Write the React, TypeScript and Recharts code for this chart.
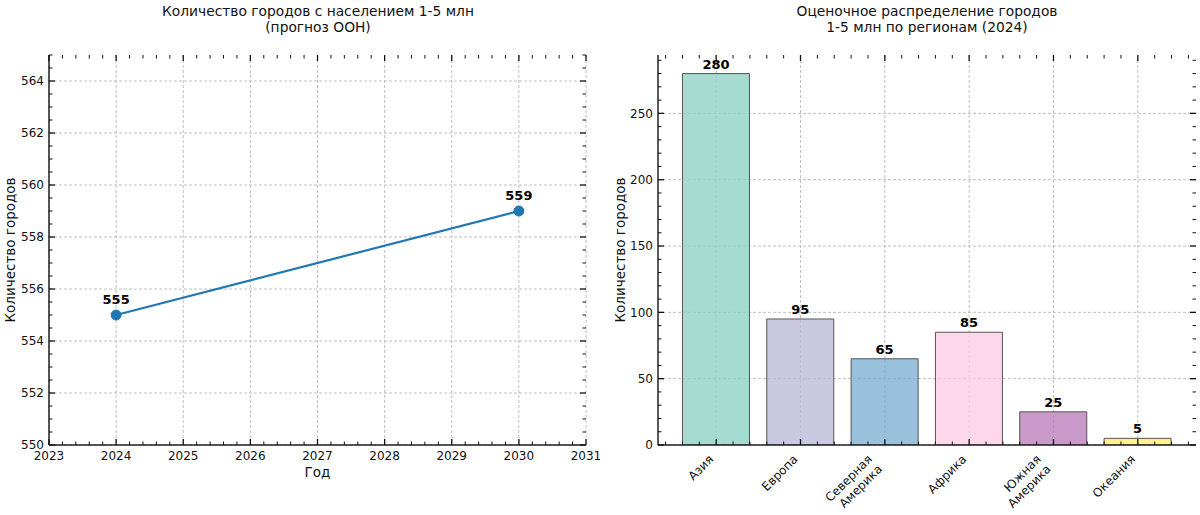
import React from "react";
import {
  Bar,
  BarChart,
  CartesianGrid,
  Cell,
  Label,
  LabelList,
  Line,
  LineChart,
  XAxis,
  YAxis,
} from "recharts";

// left panel: UN forecast
const years = [2024, 2030];
const cityCounts = [555, 559];
const yearTicks = [2023, 2024, 2025, 2026, 2027, 2028, 2029, 2030, 2031];
const countTicks = [550, 552, 554, 556, 558, 560, 562, 564];

// right panel: by region, 2024
const regions = ["Азия", "Европа", "Северная\nАмерика", "Африка", "Южная\nАмерика", "Океания"];
const regionCounts = [280, 95, 65, 85, 25, 5];
const regionColors = ["#8dd3c7", "#bebada", "#80b1d3", "#fccde5", "#bc80bd", "#ffed6f"];
const regionTicks = [0, 1, 2, 3, 4, 5];
const barTicks = [0, 50, 100, 150, 200, 250];

const steps = (a: number, b: number, s: number) => {
  const out: number[] = [];
  for (let k = 0; a + k * s <= b + 1e-9; k++) out.push(Math.round((a + k * s) * 1000) / 1000);
  return out;
};

const lineRows = years.map((year, i) => ({ year, n: cityCounts[i] }));
const barRows = regions.map((region, i) => ({ i, region, value: regionCounts[i] }));

const INK = "#111";
const SPINE = { stroke: "#222", strokeWidth: 1.5 };
const TICK_FONT = 12;

type Side = "bottom" | "top" | "left" | "right";

function makeTick(side: Side, majors: number[], fmt?: (v: number) => string) {
  return (props: any) => {
    const { x, y, payload } = props;
    const v = payload.value as number;
    const major = majors.some((m) => Math.abs(m - v) < 1e-6);
    const len = major ? 6 : 3.5;
    const w = major ? 1.3 : 1;
    let line;
    if (side === "bottom") line = <line x1={x} x2={x} y1={y} y2={y - len} stroke={INK} strokeWidth={w} />;
    else if (side === "top") line = <line x1={x} x2={x} y1={y} y2={y + len} stroke={INK} strokeWidth={w} />;
    else if (side === "left") line = <line x1={x} x2={x + len} y1={y} y2={y} stroke={INK} strokeWidth={w} />;
    else line = <line x1={x} x2={x - len} y1={y} y2={y} stroke={INK} strokeWidth={w} />;
    let text = null;
    if (major && fmt) {
      if (side === "bottom")
        text = (
          <text x={x} y={y + 15} textAnchor="middle" fontSize={TICK_FONT} fill={INK}>
            {fmt(v)}
          </text>
        );
      else if (side === "left")
        text = (
          <text x={x - 5} y={y} dy="0.35em" textAnchor="end" fontSize={TICK_FONT} fill={INK}>
            {fmt(v)}
          </text>
        );
    }
    return (
      <g>
        {line}
        {text}
      </g>
    );
  };
}

function regionTick(props: any) {
  const { x, y, payload } = props;
  const v = payload.value as number;
  const major = regionTicks.includes(v);
  const len = major ? 6 : 3.5;
  const tick = <line x1={x} x2={x} y1={y} y2={y - len} stroke={INK} strokeWidth={major ? 1.3 : 1} />;
  if (!major) return <g>{tick}</g>;
  const lines = regions[v].split("\n");
  const lh = 14;
  const ax = x - 2 - (lines.length - 1) * lh * 0.707;
  const ay = y + 15;
  return (
    <g>
      {tick}
      <text x={ax} y={ay} transform={`rotate(-45, ${ax}, ${ay})`} textAnchor="end" fontSize={TICK_FONT} fill={INK}>
        {lines.map((t, k) => (
          <tspan key={k} x={ax} dy={k === 0 ? 0 : lh}>
            {t}
          </tspan>
        ))}
      </text>
    </g>
  );
}

const yTitle = (text: string, dx: number) => (props: any) => {
  const { x, y, width, height } = props.viewBox;
  const cx = x + width - dx;
  const cy = y + height / 2;
  return (
    <text x={cx} y={cy} transform={`rotate(-90, ${cx}, ${cy})`} textAnchor="middle" dominantBaseline="central" fontSize={13.5} fill={INK}>
      {text}
    </text>
  );
};

const xTitle = (text: string) => (props: any) => {
  const { x, y, width } = props.viewBox;
  return (
    <text x={x + width / 2} y={y + 27} textAnchor="middle" dominantBaseline="central" fontSize={13.5} fill={INK}>
      {text}
    </text>
  );
};

const titleStyle: React.CSSProperties = {
  position: "absolute",
  top: 4,
  textAlign: "center",
  fontSize: 13.8,
  lineHeight: "15.5px",
  color: INK,
  whiteSpace: "pre",
};

const valueLabel = { fontSize: 13, fontWeight: 700, fill: "#000" };

const axisBase = {
  type: "number" as const,
  allowDataOverflow: true,
  interval: 0 as const,
  tickSize: 0,
  tickMargin: 0,
  tickLine: false,
};

export default function App() {
  const xMinor = steps(2023, 2031, 0.2);
  const yMinor = steps(550, 565, 0.5);
  const bxMinor = steps(-0.6, 5.6, 0.2);
  const byMinor = steps(0, 290, 10);

  return (
    <div
      style={{
        position: "absolute",
        left: 0,
        top: 0,
        width: 1200,
        height: 515,
        background: "#fff",
        fontFamily: "'DejaVu Sans', sans-serif",
      }}
    >
      <div style={{ ...titleStyle, left: 118, width: 400 }}>
        {"Количество городов с населением 1-5 млн\n(прогноз ООН)"}
      </div>
      <div style={{ ...titleStyle, left: 727, width: 400 }}>
        {"Оценочное распределение городов\n1-5 млн по регионам (2024)"}
      </div>

      <div style={{ position: "absolute", left: 0, top: 0 }}>
        <LineChart width={600} height={515} data={lineRows} margin={{ top: 54, right: 13, bottom: 69, left: 48 }}>
          <CartesianGrid
            xAxisId="b"
            yAxisId="l"
            stroke="#c0c0c0"
            strokeDasharray="3 2"
            verticalValues={yearTicks}
            horizontalValues={countTicks}
          />
          <XAxis
            {...axisBase}
            xAxisId="b"
            dataKey="year"
            domain={[2023, 2031]}
            ticks={xMinor}
            height={1}
            axisLine={SPINE}
            tick={makeTick("bottom", yearTicks, (v) => String(v))}
          >
            <Label content={xTitle("Год")} />
          </XAxis>
          <XAxis
            {...axisBase}
            xAxisId="t"
            orientation="top"
            dataKey="year"
            domain={[2023, 2031]}
            ticks={xMinor}
            height={1}
            axisLine={false}
            tick={makeTick("top", yearTicks)}
          />
          <YAxis
            {...axisBase}
            yAxisId="l"
            dataKey="n"
            domain={[550, 565]}
            ticks={yMinor}
            width={1}
            axisLine={SPINE}
            tick={makeTick("left", countTicks, (v) => String(v))}
          >
            <Label content={yTitle("Количество городов", 39)} />
          </YAxis>
          <YAxis
            {...axisBase}
            yAxisId="r"
            orientation="right"
            dataKey="n"
            domain={[550, 565]}
            ticks={yMinor}
            width={1}
            axisLine={false}
            tick={makeTick("right", countTicks)}
          />
          <Line
            xAxisId="b"
            yAxisId="l"
            dataKey="n"
            stroke="#1f77b4"
            strokeWidth={2.2}
            dot={{ r: 5, fill: "#1f77b4", stroke: "#1f77b4", strokeWidth: 1 }}
            isAnimationActive={false}
          >
            <LabelList dataKey="n" position="top" offset={11} style={valueLabel} />
          </Line>
        </LineChart>
      </div>

      <div style={{ position: "absolute", left: 600, top: 0 }}>
        <BarChart width={600} height={515} data={barRows} margin={{ top: 54, right: 3, bottom: 69, left: 57 }}>
          <CartesianGrid
            xAxisId="b"
            yAxisId="l"
            stroke="#c0c0c0"
            strokeDasharray="3 2"
            verticalValues={regionTicks}
            horizontalValues={barTicks}
          />
          <XAxis
            {...axisBase}
            xAxisId="b"
            dataKey="i"
            domain={[-0.69, 5.69]}
            ticks={bxMinor}
            height={1}
            axisLine={SPINE}
            tick={regionTick}
          />
          <XAxis
            {...axisBase}
            xAxisId="t"
            orientation="top"
            dataKey="i"
            domain={[-0.69, 5.69]}
            ticks={bxMinor}
            height={1}
            axisLine={false}
            tick={makeTick("top", regionTicks)}
          />
          <YAxis
            {...axisBase}
            yAxisId="l"
            dataKey="value"
            domain={[0, 294]}
            ticks={byMinor}
            width={1}
            axisLine={SPINE}
            tick={makeTick("left", barTicks, (v) => String(v))}
          >
            <Label content={yTitle("Количество городов", 38)} />
          </YAxis>
          <YAxis
            {...axisBase}
            yAxisId="r"
            orientation="right"
            dataKey="value"
            domain={[0, 294]}
            ticks={byMinor}
            width={1}
            axisLine={false}
            tick={makeTick("right", barTicks)}
          />
          <Bar xAxisId="b" yAxisId="l" dataKey="value" stroke="#555" strokeWidth={1} isAnimationActive={false}>
            {barRows.map((r, k) => (
              <Cell key={r.region} fill={regionColors[k]} fillOpacity={0.8} />
            ))}
            <LabelList dataKey="value" position="top" offset={5} style={valueLabel} />
          </Bar>
        </BarChart>
      </div>
    </div>
  );
}
